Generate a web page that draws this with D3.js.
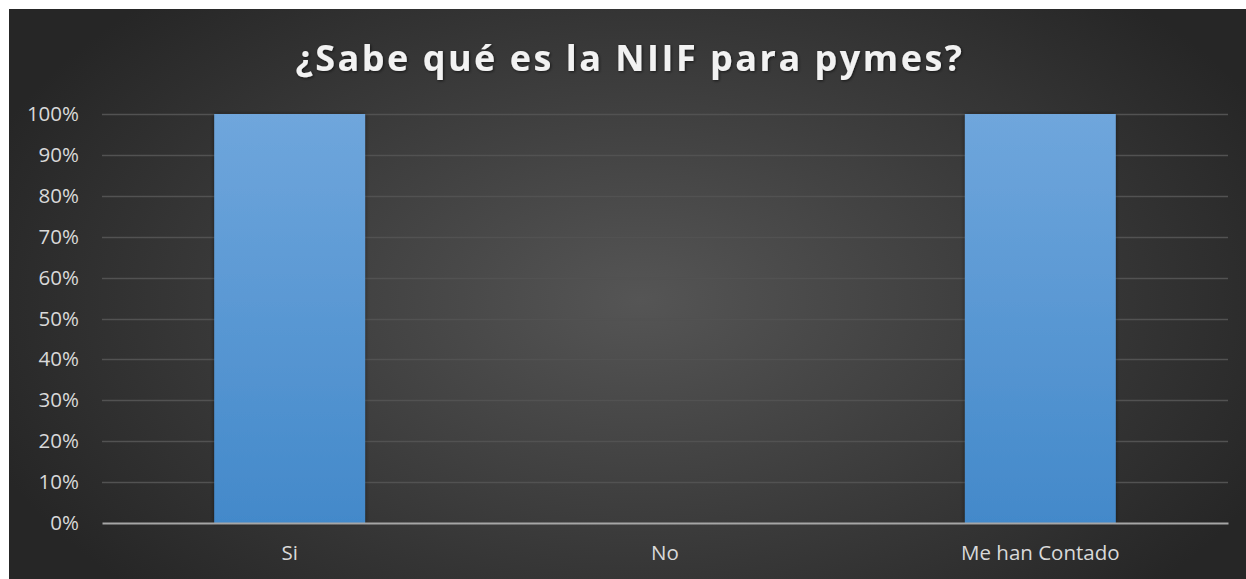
<!DOCTYPE html>
<html><head><meta charset="utf-8">
<script src="https://cdn.jsdelivr.net/npm/d3@7"></script>
<style>html,body{margin:0;padding:0;background:#fff;overflow:hidden}</style>
</head><body>
<svg id="chart" width="1246" height="579"></svg>
<script>
const categories = ["Si", "No", "Me han Contado"];
const values = [1.0, 0.0, 1.0];
const yTicks = [0, 0.1, 0.2, 0.3, 0.4, 0.5, 0.6, 0.7, 0.8, 0.9, 1.0];
const title = "¿Sabe qué es la NIIF para pymes?";

const W = 1246, H = 579;
const svg = d3.select("#chart");
const defs = svg.append("defs");

const bg = defs.append("radialGradient").attr("id","bg")
  .attr("gradientUnits","userSpaceOnUse").attr("cx",640).attr("cy",300).attr("r",700)
  .attr("gradientTransform","translate(640,300) scale(1,0.6) translate(-640,-300)");
bg.append("stop").attr("offset","0").attr("stop-color","#555555");
bg.append("stop").attr("offset","1").attr("stop-color","#262626");

const bar = defs.append("linearGradient").attr("id","bar").attr("x1",0).attr("y1",0).attr("x2",0).attr("y2",1);
bar.append("stop").attr("offset","0").attr("stop-color","#6fa6dc");
bar.append("stop").attr("offset","1").attr("stop-color","#4389ca");

const sh = defs.append("filter").attr("id","shadow").attr("x","-20%").attr("y","-20%").attr("width","140%").attr("height","140%");
sh.append("feDropShadow").attr("dx",1).attr("dy",1).attr("stdDeviation",1.5).attr("flood-color","#000").attr("flood-opacity",0.6);
const bsh = defs.append("filter").attr("id","bshadow").attr("x","-10%").attr("y","-10%").attr("width","120%").attr("height","120%");
bsh.append("feDropShadow").attr("dx",0).attr("dy",0).attr("stdDeviation",2).attr("flood-color","#000").attr("flood-opacity",0.5);

svg.append("rect").attr("x",9).attr("y",9).attr("width",W-9).attr("height",H-9).attr("fill","url(#bg)");

const m = {left:102, right:1228, top:114, bottom:523};
const x = d3.scaleBand().domain(categories).range([m.left, m.right]).paddingInner(0.598).paddingOuter(0.299);
const y = d3.scaleLinear().domain([0,1]).range([m.bottom, m.top]);

svg.append("text").attr("x",630).attr("y",71).attr("text-anchor","middle")
  .attr("font-family","'Open Sans', sans-serif").attr("font-weight","bold").attr("font-size",36)
  .attr("letter-spacing",2.5).attr("fill","#f2f2f2").attr("filter","url(#shadow)").text(title);

const grid = svg.append("g");
grid.selectAll("line").data(yTicks.filter(d=>d>0)).join("line")
  .attr("x1",m.left).attr("x2",m.right).attr("y1",d=>Math.round(y(d))+0.5).attr("y2",d=>Math.round(y(d))+0.5)
  .attr("stroke","#525252").attr("stroke-width",1.5);

const yAxis = svg.append("g").attr("transform",`translate(${m.left},0)`)
  .call(d3.axisLeft(y).tickValues(yTicks).tickFormat(d3.format(".0%")).tickSize(0).tickPadding(23));
yAxis.select(".domain").remove();
yAxis.selectAll("text").attr("font-family","'Open Sans', sans-serif").attr("font-size",20.5).attr("fill","#d9d9d9");

svg.append("g").selectAll("rect").data(values).join("rect")
  .attr("x",(d,i)=>x(categories[i])).attr("width",x.bandwidth())
  .attr("y",d=>y(d)).attr("height",d=>y(0)-y(d))
  .attr("fill","url(#bar)").attr("filter","url(#bshadow)");

const xAxis = svg.append("g").attr("transform",`translate(0,${m.bottom})`)
  .call(d3.axisBottom(x).tickSize(0).tickPadding(22));
xAxis.select(".domain").attr("stroke","#a6a6a6").attr("stroke-width",2.2);
xAxis.selectAll("text").attr("font-family","'Open Sans', sans-serif").attr("font-size",20.5).attr("fill","#d9d9d9");
</script>
</body></html>
